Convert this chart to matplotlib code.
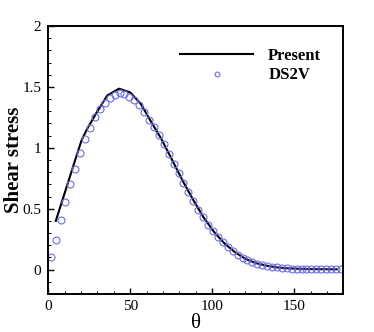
import matplotlib
matplotlib.use("Agg")
import matplotlib.pyplot as plt
from matplotlib.ticker import MultipleLocator

plt.rcParams['font.family'] = ['Liberation Serif', 'DejaVu Serif']

# Present (solid line)
present_theta = [4.6, 11.0, 17.5, 20.4, 23.9, 29.5, 36.0, 43.2, 50.0, 56.5, 62.5, 68.9, 75.4,
                 81.8, 88.2, 94.7, 101.1, 107.5, 114.0, 120.4, 126.8, 133.3, 139.7,
                 146.1, 152.6, 159.0, 165.4, 171.9, 176.0]
present_tau = [0.40, 0.67, 0.945, 1.065, 1.16, 1.29, 1.43, 1.486, 1.455, 1.36, 1.22, 1.075, 0.905,
               0.735, 0.578, 0.43, 0.31, 0.215, 0.142, 0.088, 0.053, 0.032, 0.018,
               0.011, 0.007, 0.005, 0.004, 0.003, 0.003]

# DS2V (open circles)
ds2v_theta = [1.5, 4.5, 7.5, 10.5, 13.5, 16.5, 19.5, 22.5, 25.5, 28.5, 31.5, 34.5, 37.5,
              40.5, 43.5, 46.5, 49.5, 52.5, 55.5, 58.5, 61.5, 64.5, 67.5, 70.5, 73.5,
              76.5, 79.5, 82.5, 85.5, 88.5, 91.5, 94.5, 97.5, 100.5, 103.5, 106.5, 109.5,
              112.5, 115.5, 118.5, 121.5, 124.5, 127.5, 130.5, 133.5, 136.5, 139.5, 142.5,
              145.5, 148.5, 151.5, 154.5, 157.5, 160.5, 163.5, 166.5, 169.5, 172.5, 175.5,
              178.5]
ds2v_tau = [0.10, 0.24, 0.405, 0.553, 0.70, 0.83, 0.957, 1.07, 1.165, 1.253, 1.32, 1.37,
            1.412, 1.437, 1.447, 1.439, 1.42, 1.392, 1.349, 1.294, 1.228, 1.17, 1.102,
            1.028, 0.95, 0.869, 0.79, 0.713, 0.64, 0.567, 0.493, 0.43, 0.37, 0.315, 0.269,
            0.225, 0.187, 0.153, 0.124, 0.099, 0.079, 0.062, 0.049, 0.038, 0.030, 0.023,
            0.018, 0.014, 0.011, 0.009, 0.007, 0.006, 0.005, 0.004, 0.004, 0.003, 0.003,
            0.003, 0.002, 0.002]

xticks = [0, 50, 100, 150]
yticks = [0, 0.5, 1, 1.5, 2]
ytick_labels = ['0', '0.5', '1', '1.5', '2']

fig = plt.figure(figsize=(3.74, 3.32), dpi=100)
ax = fig.add_axes([0.129, 0.1145, 0.789, 0.807])

ax.plot(present_theta, present_tau, color='black', lw=1.5, label='Present')
ax.plot(ds2v_theta, ds2v_tau, linestyle='none', marker='o', markersize=5,
        markerfacecolor='none', markeredgecolor='#6b6bf0', markeredgewidth=0.8,
        label='DS2V')

ax.set_xlim(0, 180)
ax.set_ylim(-0.2, 2)
ax.set_xticks(xticks)
ax.set_xticklabels([str(t) for t in xticks])
ax.set_yticks(yticks)
ax.set_yticklabels(ytick_labels)
ax.xaxis.set_minor_locator(MultipleLocator(10))
ax.yaxis.set_minor_locator(MultipleLocator(0.1))

for s in ax.spines.values():
    s.set_linewidth(1.4)

ax.tick_params(which='both', direction='in', top=False, right=False, labelsize=11)
ax.tick_params(which='major', length=4.5, width=1.0)
ax.tick_params(which='minor', length=2.3, width=0.7)
ax.tick_params(axis='y', pad=5)
ax.tick_params(axis='x', pad=4)

ax.set_xlabel('θ', fontsize=15, labelpad=1)
ax.set_ylabel('Shear stress', fontsize=15, fontweight='bold', labelpad=-1)

leg = ax.legend(loc='upper left', bbox_to_anchor=(0.446, 0.918), frameon=False,
                handlelength=4.4, handletextpad=0.9, borderpad=0, borderaxespad=0,
                labelspacing=0.2, markerscale=0.7,
                prop={'family': 'Liberation Serif', 'weight': 'bold', 'size': 12})

fig.savefig('out.png', dpi=100)
